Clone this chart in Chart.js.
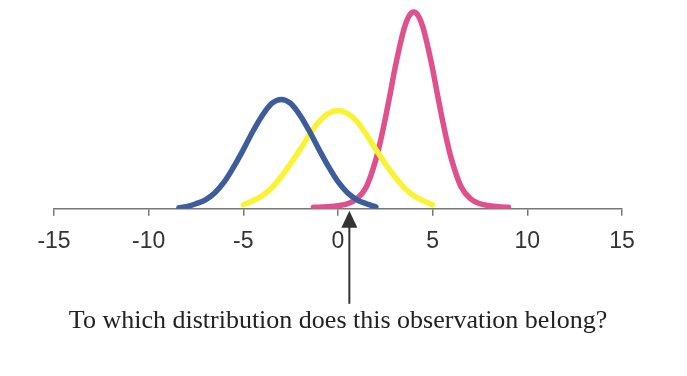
<!DOCTYPE html>
<html>
<head>
<meta charset="utf-8">
<script src="https://cdn.jsdelivr.net/npm/chart.js@4.4.0/dist/chart.umd.min.js"></script>
<style>
    html, body { margin: 0; padding: 0; background: #fff; }
    #wrap { width: 687px; height: 376px; position: relative; }
</style>
</head>
<body>
<div id="wrap"><canvas id="curvas"></canvas></div>
<script>
// valores (alto de cada curva sobre el eje)
const azulX = [-8.4, -8, -7.5, -7, -6.5, -6, -5.5, -5, -4.5, -4, -3.5, -3, -2.5, -2, -1.5, -1, -0.5, 0, 0.5, 1, 1.5, 2];
const azulY = [1, 2, 5, 9, 16, 27, 42, 59, 77, 93, 105, 109, 105, 93, 77, 59, 42, 27, 16, 9, 5, 2];

const amarilloX = [-5, -4.5, -4, -3.5, -3, -2.5, -2, -1.5, -1, -0.5, 0, 0.5, 1, 1.5, 2, 2.5, 3, 3.5, 4, 4.5, 5];
const amarilloY = [4, 8, 13, 21, 32, 45, 59, 74, 87, 95, 98, 95, 87, 74, 59, 45, 32, 21, 13, 8, 4];

const rosaX = [-1.3, -1, -0.5, 0, 0.5, 1, 1.5, 2, 2.25, 2.5, 2.75, 3, 3.25, 3.5, 3.75, 4, 4.25, 4.5, 4.75, 5, 5.25, 5.5, 5.75, 6, 6.5, 7, 7.5, 8, 8.5, 9];
const rosaY = [1.5, 1.5, 2, 3, 5, 10, 22, 49, 68, 90, 114, 139, 161, 180, 192, 196, 192, 180, 161, 139, 114, 90, 68, 49, 22, 10, 5, 3, 2, 1.5];

const ticksX = [-15, -10, -5, 0, 5, 10, 15];
const observacion = 0.6;
const pregunta = 'To which distribution does this observation belong?';

function puntos(xs, ys) {
    return xs.map((x, i) => ({ x: x, y: ys[i] }));
}

// flecha que apunta a la observacion
const flecha = {
    id: 'flecha',
    afterDraw(chart) {
        const ctx = chart.ctx;
        const eje = chart.scales.x;
        const px = eje.getPixelForValue(observacion);
        const y0 = eje.top + 2;
        ctx.save();
        ctx.fillStyle = '#333';
        ctx.beginPath();
        ctx.moveTo(px, y0);
        ctx.lineTo(px - 8, y0 + 17);
        ctx.lineTo(px + 8, y0 + 17);
        ctx.closePath();
        ctx.fill();
        ctx.strokeStyle = '#333';
        ctx.lineWidth = 2;
        ctx.beginPath();
        ctx.moveTo(px, y0 + 16);
        ctx.lineTo(px, y0 + 93);
        ctx.stroke();
        ctx.restore();
    }
};

const comun = {
    showLine: true,
    pointRadius: 0,
    borderWidth: 5.5,
    borderCapStyle: 'round',
    tension: 0.4,
    cubicInterpolationMode: 'monotone',
    fill: false
};

new Chart(document.getElementById('curvas'), {
    type: 'scatter',
    data: {
        datasets: [
            Object.assign({ label: 'azul', data: puntos(azulX, azulY), borderColor: '#3d5c9c' }, comun),
            Object.assign({ label: 'amarillo', data: puntos(amarilloX, amarilloY), borderColor: '#fbf232' }, comun),
            Object.assign({ label: 'rosa', data: puntos(rosaX, rosaY), borderColor: '#e0508c' }, comun)
        ]
    },
    options: {
        responsive: true,
        maintainAspectRatio: false,
        animation: false,
        layout: { padding: { top: 0, left: 54, right: 65, bottom: 0 } },
        plugins: {
            legend: { display: false },
            tooltip: { enabled: false },
            title: {
                display: true,
                position: 'bottom',
                text: pregunta,
                color: '#222',
                font: { family: '"Liberation Serif", "Times New Roman", serif', size: 26, weight: 'normal', lineHeight: 1.2 },
                padding: { top: 4, bottom: 39 }
            }
        },
        scales: {
            x: {
                type: 'linear',
                min: -15,
                max: 15,
                afterFit(scale) { scale.height = 93; },
                afterBuildTicks(scale) { scale.ticks = ticksX.map(v => ({ value: v })); },
                border: { display: true, color: '#777', width: 1.5 },
                grid: { drawOnChartArea: false, drawTicks: true, tickLength: 7, color: '#777', lineWidth: 1.5 },
                ticks: {
                    color: '#333',
                    padding: 12,
                    font: { family: '"Liberation Sans", Arial, sans-serif', size: 23 }
                }
            },
            y: {
                display: false,
                min: 0,
                max: 208
            }
        }
    },
    plugins: [flecha]
});
</script>
</body>
</html>
